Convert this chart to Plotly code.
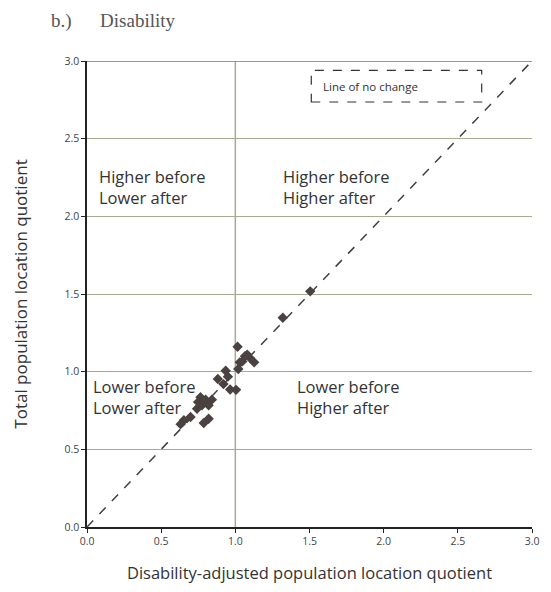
import plotly.graph_objects as go

# data
adj_lq = [1.015, 1.08, 1.127, 1.10, 1.065, 1.03, 1.02, 1.047, 0.935, 0.882, 0.92, 0.95,
          0.965, 1.005, 0.765, 0.80, 0.749, 0.842, 0.82, 0.742, 0.775, 0.698, 0.653,
          0.631, 0.82, 0.787, 1.505, 1.32]
total_lq = [1.16, 1.11, 1.06, 1.087, 1.10, 1.06, 1.017, 1.066, 1.006, 0.953, 0.92, 0.968,
            0.885, 0.883, 0.836, 0.82, 0.804, 0.82, 0.783, 0.761, 0.783, 0.708, 0.687,
            0.662, 0.697, 0.67, 1.517, 1.347]
tick_vals = [0.0, 0.5, 1.0, 1.5, 2.0, 2.5, 3.0]
tick_text = ["0.0", "0.5", "1.0", "1.5", "2.0", "2.5", "3.0"]
no_change = [0.0, 3.0]
quadrant_labels = ["Higher before<br>Lower after", "Higher before<br>Higher after",
                   "Lower before<br>Lower after", "Lower before<br>Higher after"]
quadrant_x = [0.067, 1.307, 0.027, 1.40]
quadrant_y = [2.19, 2.19, 0.84, 0.84]

FONT = "Open Sans"
GRID = "#a9aa92"

fig = go.Figure()
fig.add_trace(go.Scatter(x=no_change, y=no_change, mode="lines",
                         line=dict(color="#404040", width=1.5, dash="dash"),
                         hoverinfo="skip", showlegend=False))
fig.add_trace(go.Scatter(x=adj_lq, y=total_lq, mode="markers",
                         marker=dict(symbol="diamond", size=8, color="#4a4141",
                                     line=dict(width=0)),
                         showlegend=False))

# reference line at x = 1.0
fig.add_shape(type="line", xref="x", yref="y", x0=1.0, x1=1.0, y0=0, y1=3.0,
              line=dict(color=GRID, width=1.5), layer="below")

for txt, xx, yy in zip(quadrant_labels, quadrant_x, quadrant_y):
    fig.add_annotation(x=xx, y=yy, xref="x", yref="y", text=txt, showarrow=False,
                       xanchor="left", yanchor="middle", align="left",
                       font=dict(family=FONT, size=16.5, color="#333333"))

# legend-like box
fig.add_shape(type="rect", xref="paper", yref="paper", x0=0.504, x1=0.887,
              y0=0.912, y1=0.980, line=dict(color="#333333", width=1.2, dash="dash"))
fig.add_annotation(xref="paper", yref="paper", x=0.525, y=0.946, text="Line of no change",
                   showarrow=False, xanchor="left", yanchor="middle",
                   font=dict(family=FONT, size=11.5, color="#333333"))

fig.add_annotation(xref="paper", yref="paper", x=-0.085, y=1.085,
                   text="b.)&nbsp;&nbsp;&nbsp;&nbsp;&nbsp;&nbsp;Disability",
                   showarrow=False, xanchor="left", yanchor="middle",
                   font=dict(family="Liberation Serif", size=19, color="#555555"))

fig.update_layout(
    width=551, height=592,
    margin=dict(l=87, r=14, t=61, b=61),
    paper_bgcolor="white", plot_bgcolor="white",
    font=dict(family=FONT, color="#333333"),
    xaxis=dict(range=[0, 3.0], tickvals=tick_vals, ticktext=tick_text,
               showgrid=False, zeroline=False, showline=True, linecolor="#222222",
               linewidth=1.5, ticks="outside", ticklen=4, tickcolor="#222222",
               tickfont=dict(size=10.5, color="#444444"),
               title=dict(text="Disability-adjusted population location quotient",
                          font=dict(size=16.5, color="#333333"), standoff=20)),
    yaxis=dict(range=[0, 3.0], tickvals=tick_vals, ticktext=tick_text,
               showgrid=True, gridcolor=GRID, gridwidth=1.2, zeroline=False,
               showline=True, linecolor="#222222", linewidth=1.5,
               ticks="outside", ticklen=4, tickcolor="#222222",
               tickfont=dict(size=10.5, color="#444444"),
               title=dict(text="Total population location quotient",
                          font=dict(size=17, color="#333333"), standoff=32)),
)
# top border line at 3.0
fig.add_shape(type="line", xref="paper", yref="y", x0=0, x1=1, y0=3.0, y1=3.0,
              line=dict(color="#777777", width=1.5))

fig.write_html("out.html")
